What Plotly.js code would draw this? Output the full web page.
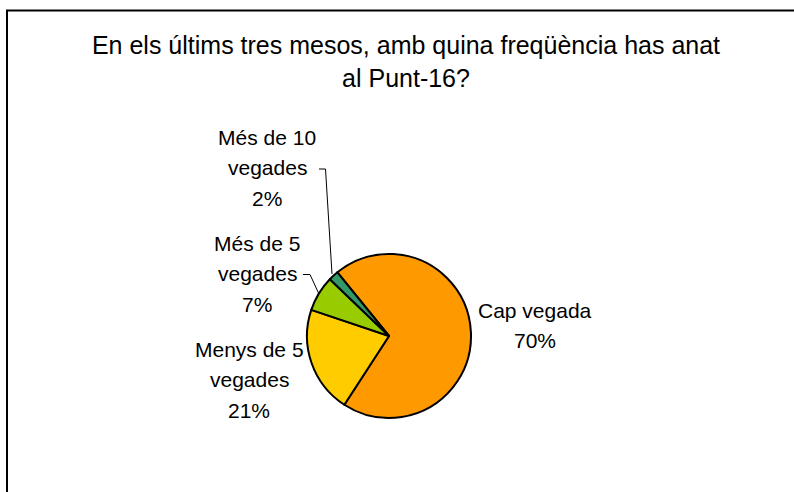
<!DOCTYPE html>
<html><head><meta charset="utf-8">
<script src="https://cdn.plot.ly/plotly-3.0.1.min.js"></script>
<style>html,body{margin:0;padding:0;background:#fff}</style>
</head><body><div id="chart" style="width:794px;height:492px"></div>
<script>
// ---- data ----
const categories = ['Cap vegada', 'Menys de 5 vegades', 'Més de 5 vegades', 'Més de 10 vegades'];
const values = [70, 21, 7, 2];
const labelLines = [['Cap vegada'], ['Menys de 5', 'vegades'], ['Més de 5', 'vegades'], ['Més de 10', 'vegades']];
const colors = ['#FF9900', '#FFCC00', '#99CC00', '#339966'];
const titleLines = ['En els últims tres mesos, amb quina freqüència has anat', 'al Punt-16?'];

// ---- layout helpers ----
const W = 794, H = 492;
const fx = x => x / W, fy = y => 1 - y / H;
const FONT = 'Liberation Sans, Arial, sans-serif';
const total = values.reduce((a, b) => a + b, 0);
const pct = values.map(v => Math.round(v / total * 100) + '%');

// label block first-line positions (pixels) and line spacing
const labelPos = [[535, 310], [249, 349], [257, 243], [267, 137]];
const LS = 30.5;

const annotations = [];
categories.forEach((c, i) => {
  const lines = labelLines[i].concat([pct[i]]);
  lines.forEach((t, j) => {
    annotations.push({
      xref: 'paper', yref: 'paper',
      x: fx(labelPos[i][0]), y: fy(labelPos[i][1] + j * LS),
      xanchor: 'center', yanchor: 'middle',
      text: t, showarrow: false,
      font: {family: FONT, size: 21, color: '#000'}
    });
  });
});

const path = pts => pts.map((p, k) => (k ? 'L' : 'M') + fx(p[0]) + ',' + fy(p[1])).join(' ');
const shapes = [
  {type: 'rect', xref: 'paper', yref: 'paper', x0: fx(7), x1: 1.2, y0: -0.2, y1: fy(10.5),
   line: {color: '#000', width: 2}, fillcolor: 'rgba(0,0,0,0)'},
  {type: 'path', xref: 'paper', yref: 'paper', path: path([[319, 169], [325.5, 169], [332, 274]]),
   line: {color: '#000', width: 1}},
  {type: 'path', xref: 'paper', yref: 'paper', path: path([[303, 274.5], [310, 274.5], [318.5, 293]]),
   line: {color: '#000', width: 1}}
];

const cx = 389, cy = 336, r = 82;
const trace = {
  type: 'pie',
  labels: categories,
  values: values,
  sort: false,
  direction: 'clockwise',
  rotation: -39,
  marker: {colors: colors, line: {color: '#000', width: 2}},
  textinfo: 'none',
  hoverinfo: 'none',
  showlegend: false,
  domain: {x: [fx(cx - r), fx(cx + r)], y: [fy(cy + r), fy(cy - r)]}
};

const layout = {
  width: W, height: H,
  margin: {l: 0, r: 0, t: 0, b: 0},
  paper_bgcolor: '#fff',
  title: {
    text: titleLines.join('<br>'),
    font: {family: FONT, size: 25, color: '#000'},
    x: fx(406), xanchor: 'center', xref: 'paper',
    y: fy(54), yanchor: 'top', yref: 'container'
  },
  showlegend: false,
  annotations: annotations,
  shapes: shapes
};

Plotly.newPlot('chart', [trace], layout, {displayModeBar: false, staticPlot: true});
</script>
</body></html>
